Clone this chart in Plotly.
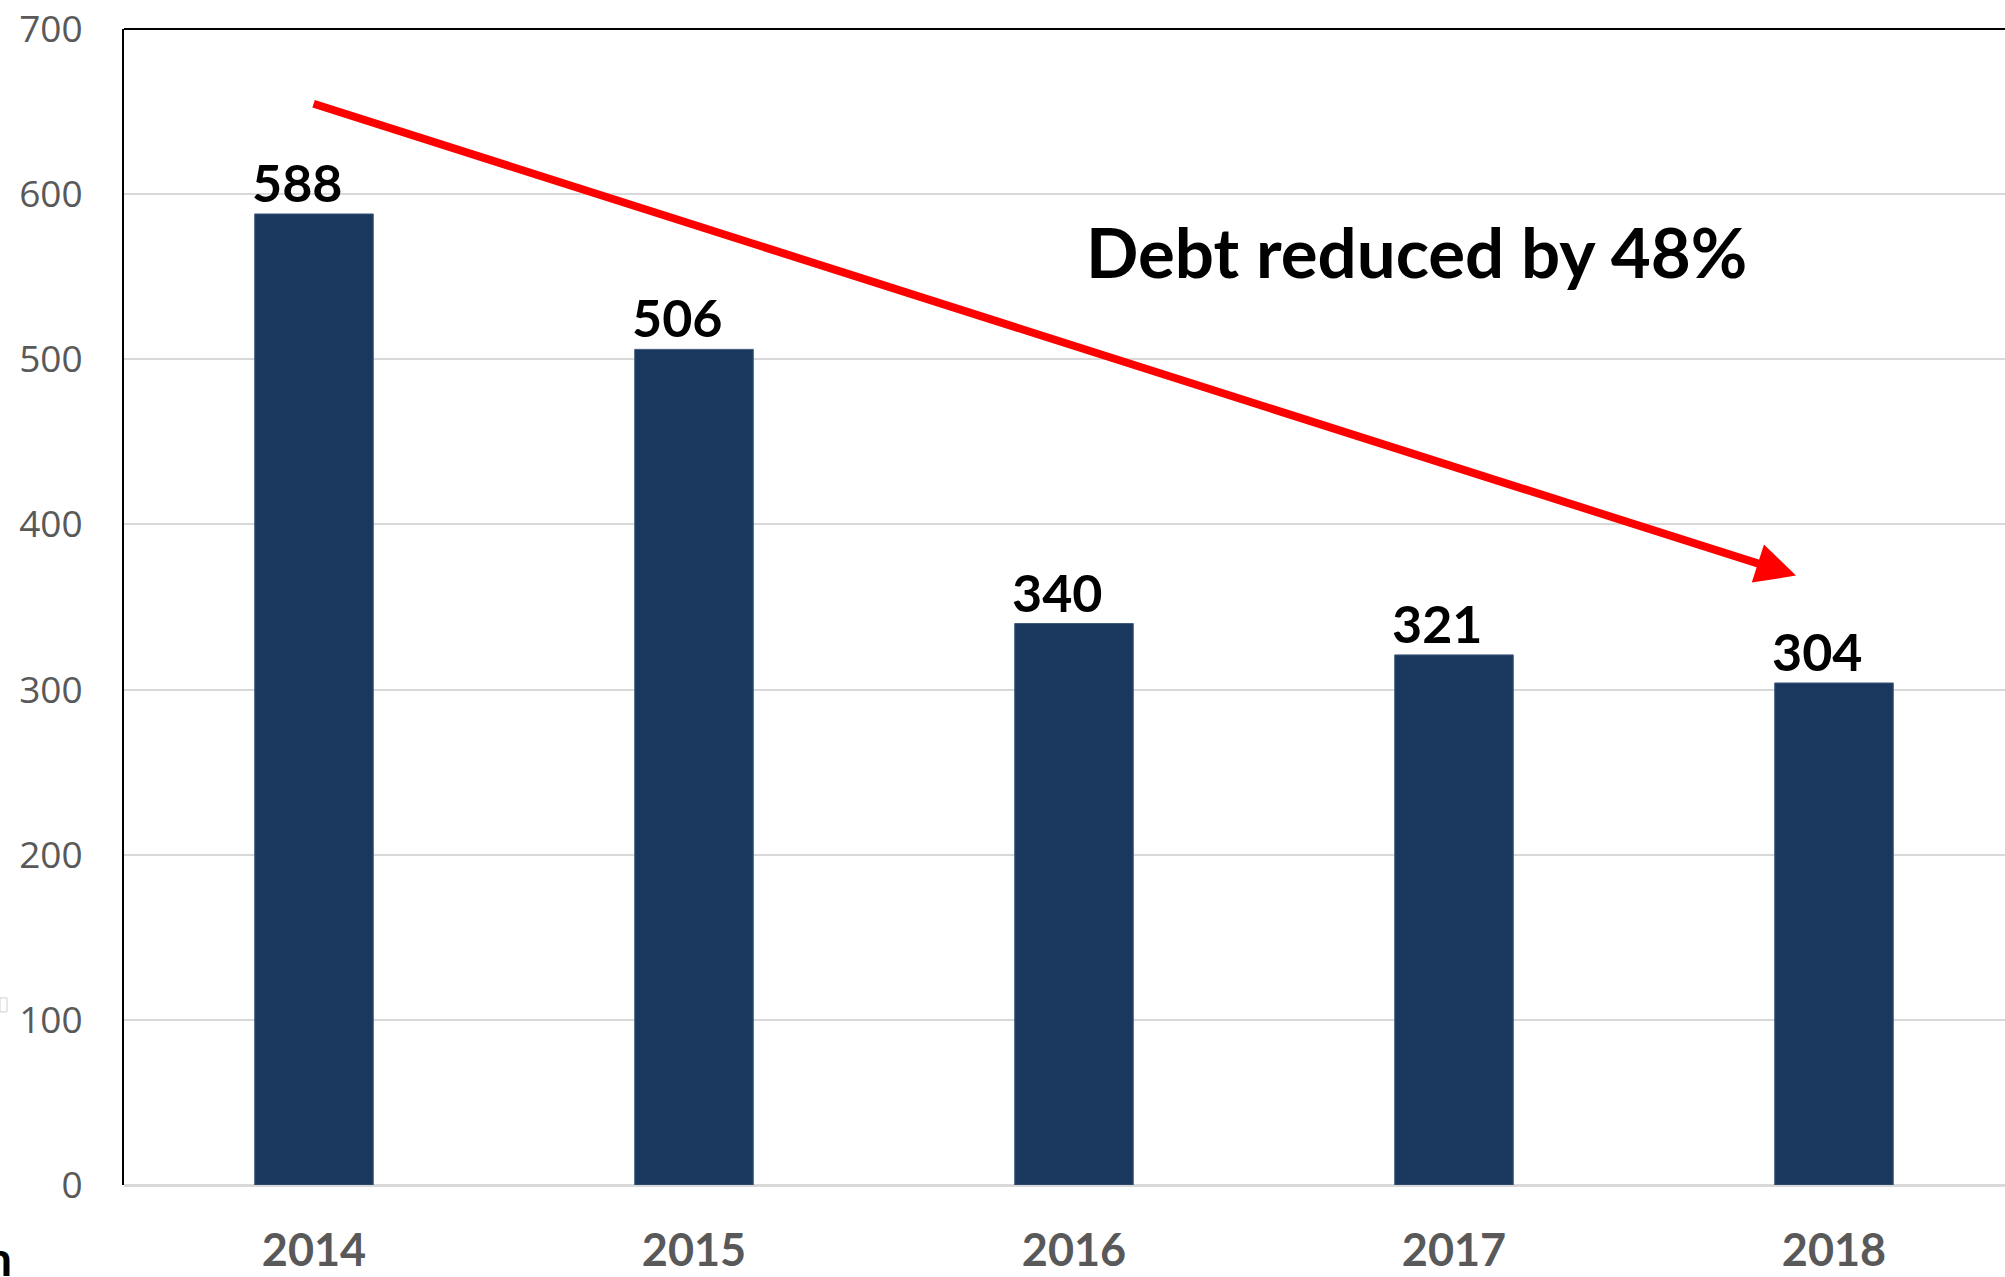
import plotly.graph_objects as go

years = ["2014", "2015", "2016", "2017", "2018"]
debt = [588, 506, 340, 321, 304]
y_ticks = [0, 100, 200, 300, 400, 500, 600, 700]
note_text = "Debt reduced by 48%"

BAR = "#1a375e"
GRAY = "#595959"

fig = go.Figure()
fig.add_trace(go.Bar(
    x=list(range(len(years))), y=debt,
    width=0.312,
    marker=dict(color=BAR, line=dict(color="#3f5b7e", width=1)),
    hoverinfo="skip",
))

annotations = []
for i, v in enumerate(debt):
    annotations.append(dict(
        x=i, y=v, xref="x", yref="y", text=str(v), showarrow=False,
        xanchor="center", yanchor="bottom", xshift=-17, yshift=-1,
        font=dict(family="Lato", size=52, color="black", weight="bold"),
    ))

# trend arrow from above first bar to near the last bar
annotations.append(dict(
    x=3.90, y=369, ax=-0.005, ay=655, xref="x", yref="y", axref="x", ayref="y",
    text="", showarrow=True, arrowhead=2, arrowsize=1, arrowwidth=8,
    arrowcolor="#ff0000", standoff=0,
))
annotations.append(dict(
    x=2.90, y=565, xref="x", yref="y", text=note_text, showarrow=False,
    xanchor="center", yanchor="middle",
    font=dict(family="Lato", size=69, color="black", weight="bold"),
))
# cropped fragment at lower-left edge
annotations.append(dict(
    x=0, y=0, xref="paper", yref="paper", text="n", showarrow=False,
    xanchor="right", yanchor="top", xshift=-110, yshift=-42,
    font=dict(family="Lato", size=48, color="black", weight="bold"),
))

fig.update_layout(
    width=2005, height=1277,
    margin=dict(l=124, r=0, t=29, b=92),
    paper_bgcolor="white", plot_bgcolor="white",
    showlegend=False,
    annotations=annotations,
    shapes=[
        dict(type="line", xref="paper", yref="paper", x0=0, x1=1, y0=1, y1=1,
             line=dict(color="black", width=2)),
        dict(type="rect", xref="paper", xsizemode="pixel", xanchor=0, x0=-124, x1=-117,
             yref="y", ysizemode="pixel", yanchor=100, y0=8, y1=22,
             line=dict(color="#d0d0d0", width=1), fillcolor="white"),
    ],
    xaxis=dict(
        range=[-0.5, 4.45], automargin=False,
        tickmode="array", tickvals=list(range(len(years))), ticktext=years,
        tickfont=dict(family="Lato", size=45, color=GRAY, weight="bold"),
        showgrid=False, showline=False, zeroline=False,
        ticks="", ticklabelstandoff=35,
    ),
    yaxis=dict(
        range=[0, 700], automargin=False,
        tickmode="array", tickvals=y_ticks,
        tickfont=dict(family="Open Sans", size=37, color=GRAY),
        showgrid=True, gridcolor="#d9d9d9", gridwidth=2,
        zeroline=True, zerolinecolor="#d9d9d9", zerolinewidth=3,
        showline=True, linecolor="black", linewidth=2,
        ticks="", ticklabelstandoff=32,
    ),
)

fig.write_html("out.html")
